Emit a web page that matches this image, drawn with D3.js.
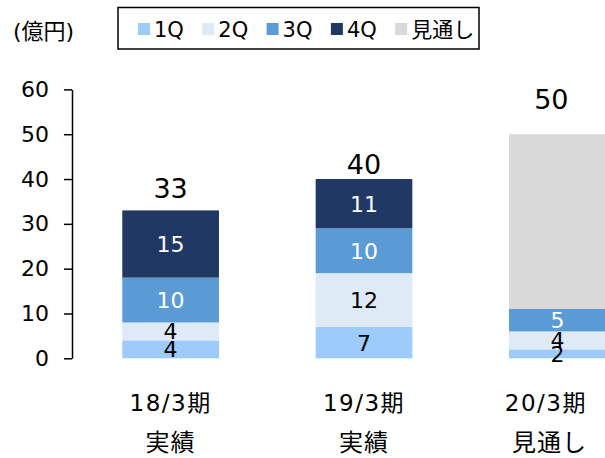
<!DOCTYPE html>
<html>
<head>
<meta charset="utf-8">
<script src="https://cdn.jsdelivr.net/npm/d3@7"></script>
<style>
  body { margin: 0; background: #fff; }
  svg text { font-family: "DejaVu Sans", "Noto Sans CJK JP", sans-serif; }
</style>
</head>
<body>
<div id="chart-area"></div>
<script>
// Data
const periods = ['18/3期', '19/3期', '20/3期'];
const periodNotes = ['実績', '実績', '見通し'];
const seriesNames = ['1Q', '2Q', '3Q', '4Q', '見通し'];
const q1 = [4, 7, 2];
const q2 = [4, 12, 4];
const q3 = [10, 10, 5];
const q4 = [15, 11, 0];
const outlook = [0, 0, 39];
const totals = [33, 40, 50];
const yTicks = [0, 10, 20, 30, 40, 50, 60];

// Styles
const colors = ['#9DCBFB', '#DEEAF6', '#5B9BD5', '#203864', '#D9D9D9'];
const labelColors = ['#000', '#000', '#fff', '#fff', '#000'];
const totalGap = [12, 5, 25];
const totalDx = [0, 0, -6];

const W = 605, H = 458;
const svg = d3.select('#chart-area')
    .append('svg')
    .attr('width', W)
    .attr('height', H);

const x = d3.scaleBand()
    .domain(periods)
    .range([72, 656])
    .paddingInner(0.5)
    .paddingOuter(0.26);

const y = d3.scaleLinear()
    .domain([0, 60])
    .range([358.3, 89.4]);

// Stack the series
const table = periods.map((p, i) => ({
    period: p,
    '1Q': q1[i], '2Q': q2[i], '3Q': q3[i], '4Q': q4[i], '見通し': outlook[i]
}));
const stacked = d3.stack().keys(seriesNames)(table);

// Y axis
const yAxisCall = d3.axisLeft(y)
    .tickValues(yTicks)
    .tickSize(8)
    .tickPadding(15)
    .tickSizeOuter(0);
const yAxis = svg.append('g')
    .attr('class', 'y-axis')
    .attr('transform', 'translate(72, 0)')
    .call(yAxisCall);
yAxis.select('.domain').attr('stroke', '#000').attr('stroke-width', 1.5);
yAxis.selectAll('.tick line').attr('stroke', '#000').attr('stroke-width', 1.5);
yAxis.selectAll('.tick text')
    .attr('font-size', '22px')
    .attr('fill', '#000')
    .style('font-family', '"DejaVu Sans", sans-serif');

// Bars
const layers = svg.selectAll('g.layer')
    .data(stacked)
    .enter()
    .append('g')
    .attr('class', 'layer')
    .attr('fill', (d, i) => colors[i]);

layers.selectAll('rect')
    .data((d) => d)
    .enter()
    .append('rect')
    .attr('x', (d) => x(d.data.period))
    .attr('y', (d) => y(d[1]))
    .attr('width', x.bandwidth())
    .attr('height', (d) => y(d[0]) - y(d[1]));

// Segment labels (skip the outlook block and empty segments)
stacked.forEach((layer, k) => {
    if (seriesNames[k] === '見通し') return;
    svg.append('g')
        .selectAll('text')
        .data(layer.filter((d) => d[1] - d[0] > 0))
        .enter()
        .append('text')
        .attr('x', (d) => x(d.data.period) + x.bandwidth() / 2)
        .attr('y', (d) => (y(d[0]) + y(d[1])) / 2)
        .attr('dy', '0.36em')
        .attr('text-anchor', 'middle')
        .attr('font-size', '22px')
        .attr('fill', labelColors[k])
        .text((d) => d[1] - d[0]);
});

// Totals
svg.append('g')
    .selectAll('text')
    .data(totals)
    .enter()
    .append('text')
    .attr('x', (d, i) => x(periods[i]) + x.bandwidth() / 2 + totalDx[i])
    .attr('y', (d, i) => y(d) - totalGap[i])
    .attr('text-anchor', 'middle')
    .attr('font-size', '27px')
    .attr('fill', '#000')
    .text((d) => d);

// Category labels (kept inside the picture)
function clampX(sel, cx) {
    const half = sel.node().getComputedTextLength() / 2;
    return Math.min(cx, W - 18 - half);
}
periods.forEach((p, i) => {
    const cx = x(p) + x.bandwidth() / 2;
    const t1 = svg.append('text')
        .attr('y', 411)
        .attr('text-anchor', 'middle')
        .attr('font-size', '23px')
        .attr('letter-spacing', '1.5px')
        .attr('fill', '#000')
        .text(p);
    t1.attr('x', clampX(t1, cx));
    const t2 = svg.append('text')
        .attr('y', 451)
        .attr('text-anchor', 'middle')
        .attr('font-size', '24px')
        .attr('letter-spacing', '1px')
        .attr('fill', '#000')
        .text(periodNotes[i]);
    t2.attr('x', clampX(t2, cx));
});

// Unit label
svg.append('text')
    .attr('x', 13)
    .attr('y', 39)
    .attr('font-size', '22px')
    .attr('fill', '#000')
    .text('(億円)');

// Legend
const legend = svg.append('g').attr('class', 'legend');
legend.append('rect')
    .attr('x', 118)
    .attr('y', 7.5)
    .attr('width', 361)
    .attr('height', 41.5)
    .attr('fill', '#fff')
    .attr('stroke', '#000')
    .attr('stroke-width', 1.5);

const items = legend.selectAll('g.item')
    .data(seriesNames)
    .enter()
    .append('g')
    .attr('class', 'item')
    .attr('transform', (d, i) => 'translate(' + (138 + i * 64.3) + ', 23)');
items.append('rect')
    .attr('width', 12)
    .attr('height', 12)
    .attr('fill', (d, i) => colors[i]);
items.append('text')
    .attr('x', 16)
    .attr('y', 6)
    .attr('dy', '0.36em')
    .attr('font-size', '21px')
    .attr('fill', '#000')
    .text((d) => d);
</script>
</body>
</html>
